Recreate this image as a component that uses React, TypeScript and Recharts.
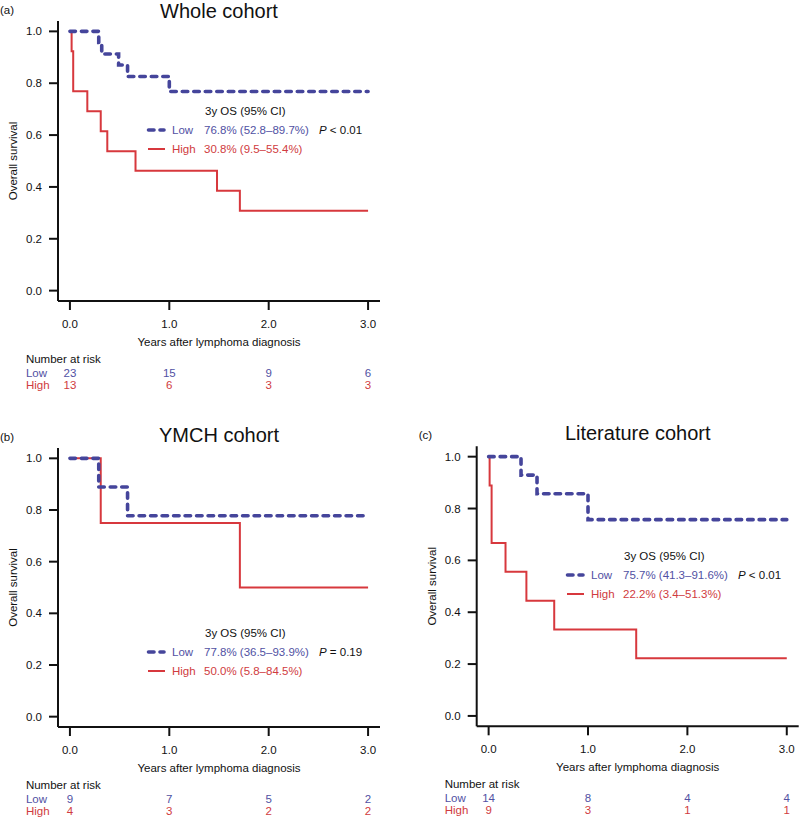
import { Legend, Line, LineChart, XAxis, YAxis } from "recharts";

const LOW = "#45459b";
const HIGH = "#d7383d";
const LOW_TEXT = "#5151a3";
const HIGH_TEXT = "#d03b40";
const INK = "#111";
const FONT = '"Liberation Sans", Arial, sans-serif';
const FS = 11.5;

const yearTicks = [0, 1, 2, 3];
const survTicks = [0, 0.2, 0.4, 0.6, 0.8, 1.0];

// (a) whole cohort
const wholeLowYears = [0, 0.29, 0.32, 0.49, 0.58, 1.0, 3.0];
const wholeLowSurv = [1, 0.957, 0.913, 0.87, 0.826, 0.768, 0.768];
const wholeHighYears = [0, 0.017, 0.033, 0.175, 0.31, 0.376, 0.66, 1.48, 1.71, 3.0];
const wholeHighSurv = [1, 0.923, 0.769, 0.692, 0.615, 0.538, 0.462, 0.385, 0.308, 0.308];
const wholeRiskLow = [23, 15, 9, 6];
const wholeRiskHigh = [13, 6, 3, 3];

// (b) YMCH cohort
const ymchLowYears = [0, 0.29, 0.58, 3.0];
const ymchLowSurv = [1, 0.889, 0.778, 0.778];
const ymchHighYears = [0, 0.31, 1.71, 3.0];
const ymchHighSurv = [1, 0.75, 0.5, 0.5];
const ymchRiskLow = [9, 7, 5, 2];
const ymchRiskHigh = [4, 3, 2, 2];

// (c) literature cohort
const litLowYears = [0, 0.326, 0.487, 1.0, 3.0];
const litLowSurv = [1, 0.929, 0.857, 0.757, 0.757];
const litHighYears = [0, 0.01, 0.03, 0.17, 0.38, 0.66, 1.485, 3.0];
const litHighSurv = [1, 0.889, 0.667, 0.556, 0.444, 0.333, 0.222, 0.222];
const litRiskLow = [14, 8, 4, 4];
const litRiskHigh = [9, 3, 1, 1];

const toPoints = (years: number[], surv: number[]) =>
  years.map((t, i) => ({ t, s: surv[i] }));

const PLOT_W = 322;
const Y_AXIS_W = 50;

function makeYearTick(riskLow: number[], riskHigh: number[]) {
  return (props: any) => {
    const { x, y, payload } = props;
    const i = yearTicks.indexOf(payload.value);
    const axisY = y - 9;
    const common = { fontSize: FS, fontFamily: FONT, textAnchor: "middle" as const };
    return (
      <g>
        <text x={x} y={axisY + 26.5} fill={INK} {...common}>
          {Number(payload.value).toFixed(1)}
        </text>
        <text x={x} y={axisY + 75.5} fill={LOW_TEXT} {...common}>
          {riskLow[i]}
        </text>
        <text x={x} y={axisY + 88} fill={HIGH_TEXT} {...common}>
          {riskHigh[i]}
        </text>
        {i === 0 && (
          <g fontSize={FS} fontFamily={FONT}>
            <text x={x - 44} y={axisY + 62} fill={INK}>Number at risk</text>
            <text x={x - 44} y={axisY + 75.5} fill={LOW_TEXT}>Low</text>
            <text x={x - 44} y={axisY + 88} fill={HIGH_TEXT}>High</text>
          </g>
        )}
      </g>
    );
  };
}

function OsLegend({ lowText, highText, pText }: { lowText: string; highText: string; pText: string }) {
  return (
    <svg width={270} height={60} style={{ display: "block", overflow: "visible" }} fontFamily={FONT} fontSize={FS}>
      <text x={57} y={15} fill={INK}>3y OS (95% CI)</text>
      <line x1={0.5} x2={16} y1={30} y2={30} stroke={LOW} strokeWidth={3.6} strokeDasharray="5.5 6" strokeLinecap="round" />
      <text x={24} y={34} fill={LOW_TEXT}>Low</text>
      <text x={56} y={34} fill={LOW_TEXT}>{lowText}</text>
      <text x={171} y={34} fill={INK}>
        <tspan fontStyle="italic">P</tspan>
        {pText}
      </text>
      <line x1={0} x2={17} y1={49} y2={49} stroke={HIGH} strokeWidth={2} />
      <text x={24} y={53} fill={HIGH_TEXT}>High</text>
      <text x={56} y={53} fill={HIGH_TEXT}>{highText}</text>
    </svg>
  );
}

interface PanelProps {
  left: number;
  top: number;
  width: number;
  height: number;
  plotLeft: number;
  plotTop: number;
  plotHeight: number;
  letter: string;
  title: string;
  low: { t: number; s: number }[];
  high: { t: number; s: number }[];
  riskLow: number[];
  riskHigh: number[];
  legendLeft: number;
  legendTop: number;
  lowText: string;
  highText: string;
  pText: string;
}

function KMPanel(p: PanelProps) {
  const axisBottom = p.plotTop + p.plotHeight;
  const cx = p.plotLeft + PLOT_W / 2;
  return (
    <div style={{ position: "absolute", left: p.left, top: p.top }}>
      <LineChart
        width={p.width}
        height={p.height}
        margin={{
          top: p.plotTop,
          right: p.width - p.plotLeft - PLOT_W,
          left: p.plotLeft - Y_AXIS_W,
          bottom: 0,
        }}
      >
        <XAxis
          dataKey="t"
          type="number"
          domain={[-0.12, 3.12]}
          allowDataOverflow
          ticks={yearTicks}
          interval={0}
          tick={makeYearTick(p.riskLow, p.riskHigh)}
          tickSize={9}
          tickMargin={0}
          height={p.height - axisBottom}
          axisLine={{ stroke: INK, strokeWidth: 2 }}
          tickLine={{ stroke: INK, strokeWidth: 2 }}
        />
        <YAxis
          type="number"
          domain={[-0.04, 1.04]}
          allowDataOverflow
          ticks={survTicks}
          interval={0}
          tickFormatter={(v: number) => v.toFixed(1)}
          tick={{ fontSize: FS, fill: INK, fontFamily: FONT }}
          tickSize={9}
          tickMargin={7}
          width={Y_AXIS_W}
          axisLine={{ stroke: INK, strokeWidth: 2 }}
          tickLine={{ stroke: INK, strokeWidth: 2 }}
        />
        <Legend
          verticalAlign="middle"
          align="center"
          layout="horizontal"
          wrapperStyle={{ left: p.legendLeft, top: p.legendTop, width: 270, height: 60 }}
          content={() => <OsLegend lowText={p.lowText} highText={p.highText} pText={p.pText} />}
        />
        <Line
          data={p.high}
          dataKey="s"
          type="stepAfter"
          stroke={HIGH}
          strokeWidth={2}
          dot={false}
          activeDot={false}
          isAnimationActive={false}
        />
        <Line
          data={p.low}
          dataKey="s"
          type="stepAfter"
          stroke={LOW}
          strokeWidth={3.6}
          strokeDasharray="5.5 6"
          strokeLinecap="round"
          dot={false}
          activeDot={false}
          isAnimationActive={false}
        />
        <text x={cx} y={Math.max(p.plotTop - 6.5, 18)} textAnchor="middle" fontSize={20} fontFamily={FONT} fill={INK}>
          {p.title}
        </text>
        <text x={p.plotLeft - 58} y={p.plotTop - 7.5} fontSize={FS} fontFamily={FONT} fill={INK}>
          {p.letter}
        </text>
        <text
          transform={`translate(${p.plotLeft - 41}, ${p.plotTop + p.plotHeight / 2}) rotate(-90)`}
          textAnchor="middle"
          fontSize={FS}
          fontFamily={FONT}
          fill={INK}
        >
          Overall survival
        </text>
        <text x={cx} y={axisBottom + 45} textAnchor="middle" fontSize={FS} fontFamily={FONT} fill={INK}>
          Years after lymphoma diagnosis
        </text>
      </LineChart>
    </div>
  );
}

export default function App() {
  return (
    <div style={{ position: "relative", width: 800, height: 818, fontFamily: FONT, background: "#fff" }}>
      <style>{"body{margin:0}"}</style>
      <KMPanel
        left={0}
        top={0}
        width={400}
        height={400}
        plotLeft={58}
        plotTop={21}
        plotHeight={280}
        letter="(a)"
        title="Whole cohort"
        low={toPoints(wholeLowYears, wholeLowSurv)}
        high={toPoints(wholeHighYears, wholeHighSurv)}
        riskLow={wholeRiskLow}
        riskHigh={wholeRiskHigh}
        legendLeft={148}
        legendTop={100}
        lowText="76.8% (52.8–89.7%)"
        highText="30.8% (9.5–55.4%)"
        pText=" < 0.01"
      />
      <KMPanel
        left={0}
        top={400}
        width={400}
        height={418}
        plotLeft={58}
        plotTop={48}
        plotHeight={279}
        letter="(b)"
        title="YMCH cohort"
        low={toPoints(ymchLowYears, ymchLowSurv)}
        high={toPoints(ymchHighYears, ymchHighSurv)}
        riskLow={ymchRiskLow}
        riskHigh={ymchRiskHigh}
        legendLeft={148}
        legendTop={222}
        lowText="77.8% (36.5–93.9%)"
        highText="50.0% (5.8–84.5%)"
        pText=" = 0.19"
      />
      <KMPanel
        left={400}
        top={400}
        width={400}
        height={418}
        plotLeft={76.7}
        plotTop={46.3}
        plotHeight={280}
        letter="(c)"
        title="Literature cohort"
        low={toPoints(litLowYears, litLowSurv)}
        high={toPoints(litHighYears, litHighSurv)}
        riskLow={litRiskLow}
        riskHigh={litRiskHigh}
        legendLeft={166.7}
        legendTop={144.7}
        lowText="75.7% (41.3–91.6%)"
        highText="22.2% (3.4–51.3%)"
        pText=" < 0.01"
      />
    </div>
  );
}
